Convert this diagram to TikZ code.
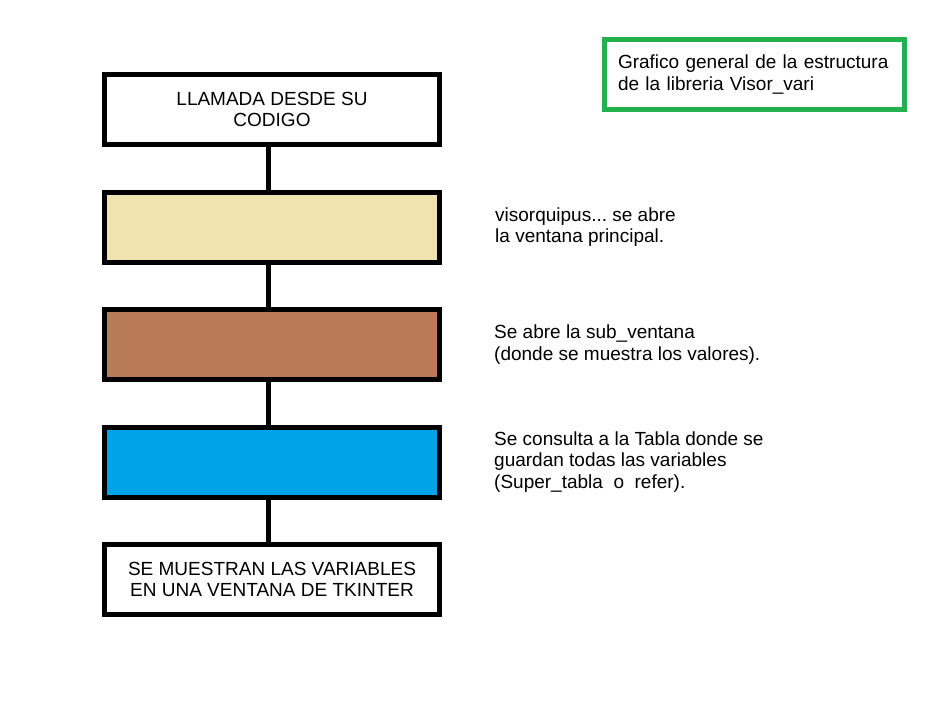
\documentclass[tikz,border=0pt]{standalone}
\usepackage{fontspec}
\setmainfont{Liberation Sans}
\usetikzlibrary{positioning}
\frenchspacing

\begin{document}
\begin{tikzpicture}[x=1pt, y=1pt]
    % 定义颜色
    \definecolor{fillcrema}{RGB}{239, 228, 176}
    \definecolor{fillmarron}{RGB}{185, 122, 87}
    \definecolor{fillazul}{RGB}{0, 162, 232}
    \definecolor{bordeverde}{RGB}{34, 177, 76}

    % --- 设置全局样式 ---
    \useasboundingbox (0,0) rectangle (948,-705);

    % 方框样式
    \tikzset{BoxStyle/.style = {
        rectangle,              % 形状：矩形
        draw=black,             % 边框颜色
        fill=white,             % 填充颜色
        line width=5pt,         % 边框粗细
        minimum width=335pt,
        minimum height=70pt,
        align=center,           % 文字居中
        font=\fontsize{19}{21.5}\selectfont
    }}

    % 说明文字样式
    \tikzset{NoteStyle/.style = {
        inner sep=0pt,
        align=left,
        font=\fontsize{19}{21.5}\selectfont
    }}

    % 连线样式
    \tikzset{LinkStyle/.style = {
        line width=5pt,         % 线条粗细
        color=black             % 线条颜色
    }}

    % --- 定义节点 ---
    \node[BoxStyle] (llamada) at (272,-109.5) {LLAMADA DESDE SU\\CODIGO};
    \node[BoxStyle, fill=fillcrema, below=42.5pt of llamada] (visor) {};
    \node[BoxStyle, fill=fillmarron, below=42.5pt of visor] (subvent) {};
    \node[BoxStyle, fill=fillazul, below=42.5pt of subvent] (tabla) {};
    \node[BoxStyle, below=42.5pt of tabla] (muestra) {SE MUESTRAN LAS VARIABLES\\EN UNA VENTANA DE TKINTER};

    % 右侧说明
    \node[NoteStyle, right=53pt of visor] (notavisor) {visorquipus... se abre\\la ventana principal.};
    \node[NoteStyle, right=52pt of subvent] (notasub) {Se abre la sub\_ventana\\(donde se muestra los valores).};
    \node[NoteStyle, right=52pt of tabla] (notatabla) {Se consulta a la Tabla donde se\\guardan todas las variables\\(Super\_tabla\ \ o\ \ refer).};

    % 标题框
    \node[draw=bordeverde, line width=5pt, text width=273pt, inner xsep=13.5pt,
          minimum height=70pt, align=left, font=\fontsize{19}{21.5}\selectfont]
          (titulo) at (754.5,-74.5) {Grafico general de la estructura\\de la libreria Visor\_vari};

    % --- 定义连线 ---
    \draw[LinkStyle] ([xshift=-4pt]llamada.south) -- ([xshift=-4pt]visor.north);
    \draw[LinkStyle] ([xshift=-4pt]visor.south) -- ([xshift=-4pt]subvent.north);
    \draw[LinkStyle] ([xshift=-4pt]subvent.south) -- ([xshift=-4pt]tabla.north);
    \draw[LinkStyle] ([xshift=-4pt]tabla.south) -- ([xshift=-4pt]muestra.north);

\end{tikzpicture}
\end{document}
